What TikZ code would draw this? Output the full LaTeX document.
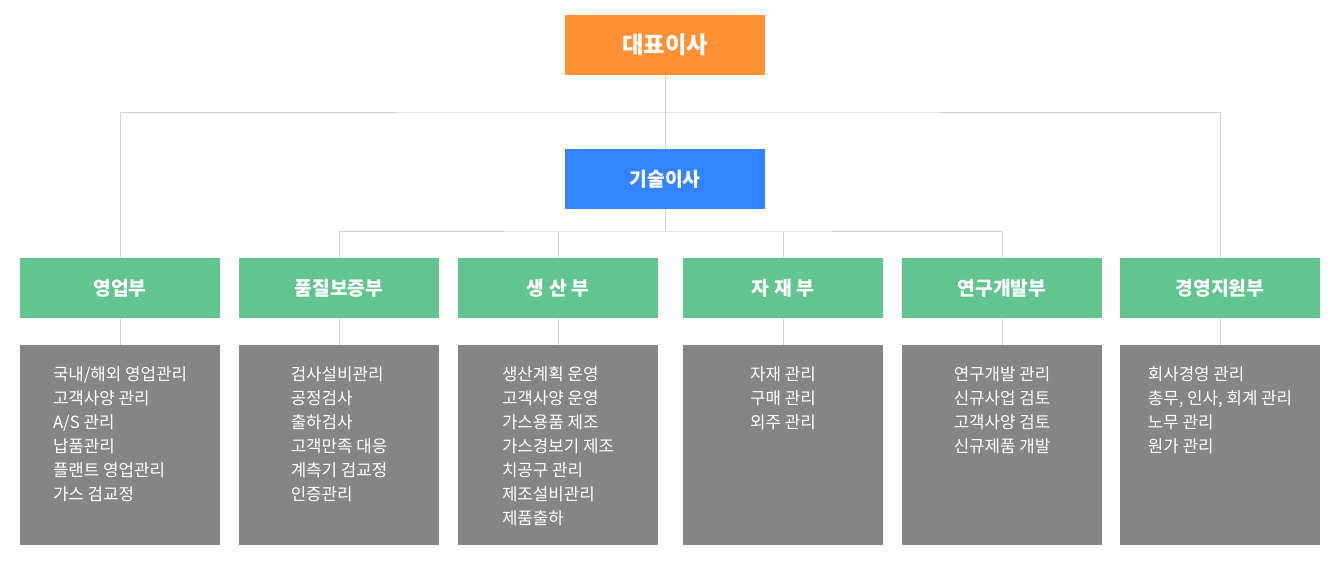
\documentclass[tikz,border=0pt]{standalone}
\usepackage{fontspec}
\setmainfont{Noto Sans CJK KR}
\usetikzlibrary{%
	calc%
}
\definecolor{ceoorange}{HTML}{FF8F33}
\definecolor{ctoblue}{HTML}{3584FF}
\definecolor{deptgreen}{HTML}{62C48F}
\definecolor{listgray}{HTML}{858585}
\definecolor{linegray}{HTML}{D2D2D2}
\tikzstyle{line}=[draw=linegray, line width=0.75pt]
\tikzstyle{head}=[minimum width=150pt, minimum height=45pt, inner sep=0pt, text=white]
\tikzstyle{dept}=[head, fill=deptgreen, font=\bfseries\fontsize{14.5}{17}\selectfont]
\tikzstyle{listbox}=[minimum width=150pt, minimum height=150pt, inner sep=0pt, fill=listgray, anchor=north]
\tikzstyle{listtext}=[anchor=north, yshift=-16pt, inner sep=0pt, align=left, text=white, font=\fontsize{12.6}{18}\selectfont]

\begin{document}
\begin{tikzpicture}[x=0.75pt, y=-0.75pt]
		\useasboundingbox (0,0) rectangle (1340,569);
		
		\node[head, fill=ceoorange, font=\bfseries\fontsize{17.5}{20}\selectfont] (ceo) at (665,45) {대표이사};
		\node[head, fill=ctoblue, font=\bfseries\fontsize{14.5}{17}\selectfont] (cto) at (665,179) {기술이사};
		\coordinate (bus1) at (665,112);
		\coordinate (bus2) at (665,231);
		
		\node[dept] (sales) at (120,288) {영업부};
		\node[dept] (quality) at (339,288) {품질보증부};
		\node[dept] (prod) at (558,288) {생 산 부};
		\node[dept] (material) at (783,288) {자 재 부};
		\node[dept] (rnd) at (1002,288) {연구개발부};
		\node[dept] (admin) at (1220,288) {경영지원부};
		
		\node[listbox] (salesB) at (120,345) {};
		\node[listbox] (qualityB) at (339,345) {};
		\node[listbox] (prodB) at (558,345) {};
		\node[listbox] (materialB) at (783,345) {};
		\node[listbox] (rndB) at (1002,345) {};
		\node[listbox] (adminB) at (1220,345) {};
		
		\node[listtext] (salesL) at (salesB.north) {국내/해외 영업관리\\고객사양 관리\\A/S 관리\\납품관리\\플랜트 영업관리\\가스 검교정};
		\node[listtext] (qualityL) at (qualityB.north) {검사설비관리\\공정검사\\출하검사\\고객만족 대응\\계측기 검교정\\인증관리};
		\node[listtext] (prodL) at (prodB.north) {생산계획 운영\\고객사양 운영\\가스용품 제조\\가스경보기 제조\\치공구 관리\\제조설비관리\\제품출하};
		\node[listtext] (materialL) at (materialB.north) {자재 관리\\구매 관리\\외주 관리};
		\node[listtext] (rndL) at (rndB.north) {연구개발 관리\\신규사업 검토\\고객사양 검토\\신규제품 개발};
		\node[listtext] (adminL) at (adminB.north) {회사경영 관리\\총무, 인사, 회계 관리\\노무 관리\\원가 관리};
		
		% Connectors
		\draw[line] (ceo) -- (cto);
		\draw[line] (sales.north) |- (bus1) -| (admin.north);
		\draw[line] (cto) -- (bus2);
		\draw[line] (quality.north) |- (bus2) -| (rnd.north);
		\draw[line] (prod.north) -- (prod.north |- bus2);
		\draw[line] (material.north) -- (material.north |- bus2);
	\foreach \dept in {sales,quality,prod,material,rnd,admin}
	\draw[line] (\dept) -- (\dept B);
	\end{tikzpicture}
\end{document}
